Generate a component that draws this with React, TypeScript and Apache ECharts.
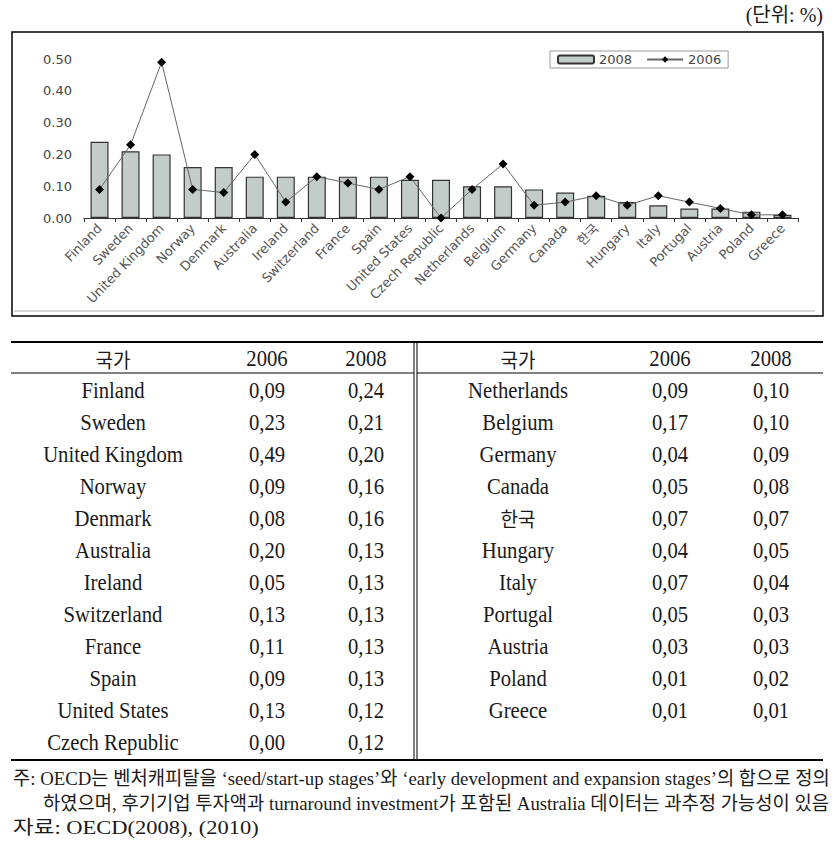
import React, { useEffect, useRef } from 'react';
import * as echarts from 'echarts';

const countries = [
  'Finland', 'Sweden', 'United Kingdom', 'Norway', 'Denmark', 'Australia', 'Ireland',
  'Switzerland', 'France', 'Spain', 'United States', 'Czech Republic', 'Netherlands',
  'Belgium', 'Germany', 'Canada', '한국', 'Hungary', 'Italy', 'Portugal', 'Austria',
  'Poland', 'Greece',
];
const values2006 = [
  0.09, 0.23, 0.49, 0.09, 0.08, 0.20, 0.05, 0.13, 0.11, 0.09, 0.13, 0.00, 0.09,
  0.17, 0.04, 0.05, 0.07, 0.04, 0.07, 0.05, 0.03, 0.01, 0.01,
];
const values2008 = [
  0.24, 0.21, 0.20, 0.16, 0.16, 0.13, 0.13, 0.13, 0.13, 0.13, 0.12, 0.12, 0.10,
  0.10, 0.09, 0.08, 0.07, 0.05, 0.04, 0.03, 0.03, 0.02, 0.01,
];
const barName = '2008';
const lineName = '2006';
const yMin = 0;
const yMax = 0.5;
const yInterval = 0.1;
const unitLabel = '(단위: %)';
const tableHeader = ['국가', '2006', '2008'];
const leftRowCount = 12;
const noteLines = [
  '주: OECD는 벤처캐피탈을 ‘seed/start-up stages’와 ‘early development and expansion stages’의 합으로 정의',
  '하였으며, 후기기업 투자액과 turnaround investment가 포함된 Australia 데이터는 과추정 가능성이 있음',
  '자료: OECD(2008), (2010)',
];

const SERIF = '"Liberation Serif", "Noto Sans CJK KR", serif';
const CJK = '"Noto Sans CJK KR", "Liberation Serif", sans-serif';
const SANS = '"DejaVu Sans", "Noto Sans CJK KR", sans-serif';

function measure(text: string, font: string): number {
  const ctx = document.createElement('canvas').getContext('2d');
  if (!ctx) return text.length * 8;
  ctx.font = font;
  return ctx.measureText(text).width;
}

const fmt = (v: number) => v.toFixed(2).replace('.', ',');
const hasHangul = (s: string) => /[\uac00-\ud7a3]/.test(s);

function cellText(text: string, x: number, y: number): any {
  const korean = hasHangul(text);
  return {
    type: 'text',
    x,
    y,
    scaleX: korean ? 0.95 : 0.9,
    style: {
      text,
      x: 0,
      y: 0,
      textAlign: 'center',
      textVerticalAlign: 'middle',
      fontSize: korean ? 20 : 23,
      fontFamily: korean ? CJK : SERIF,
      fill: '#1a1a1a',
    },
  };
}

export default function App() {
  const ref = useRef<HTMLDivElement>(null);

  useEffect(() => {
    if (!ref.current) return;
    const chart = echarts.init(ref.current, undefined, { renderer: 'svg' });

    const graphics: any[] = [];
    graphics.push({
      type: 'rect',
      shape: { x: 12, y: 32, width: 811, height: 284 },
      style: { fill: 'none', stroke: '#000', lineWidth: 1.5 },
    });
    graphics.push({
      type: 'line',
      shape: { x1: 14, y1: 311, x2: 815, y2: 311 },
      style: { stroke: '#c8c8c8', lineWidth: 1.5 },
    });
    graphics.push({
      type: 'text',
      x: 823,
      y: 15,
      style: {
        text: unitLabel,
        x: 0,
        y: 0,
        textAlign: 'right',
        textVerticalAlign: 'middle',
        fontSize: 20,
        fontFamily: SERIF,
        fill: '#1a1a1a',
      },
    });

    const lineEl = (x1: number, y1: number, x2: number, y2: number, w: number) => ({
      type: 'line',
      shape: { x1, y1, x2, y2 },
      style: { stroke: '#000', lineWidth: w },
    });
    graphics.push(lineEl(11, 342, 823, 342, 2));
    graphics.push(lineEl(11, 373, 414, 373, 1));
    graphics.push(lineEl(417, 373, 823, 373, 1));
    graphics.push(lineEl(11, 760, 823, 760, 2));
    graphics.push(lineEl(414, 342, 414, 760, 1));
    graphics.push(lineEl(417, 342, 417, 760, 1));

    const leftCols = [113, 267, 366];
    const rightCols = [518, 670, 771];
    const headerY = 359;
    const rowY0 = 390.5;
    const rowStep = 32;
    tableHeader.forEach((h, k) => {
      graphics.push(cellText(h, leftCols[k], headerY));
      graphics.push(cellText(h, rightCols[k], headerY));
    });
    countries.forEach((c, i) => {
      const right = i >= leftRowCount;
      const r = right ? i - leftRowCount : i;
      const cols = right ? rightCols : leftCols;
      const y = rowY0 + rowStep * r;
      graphics.push(cellText(c, cols[0], y));
      graphics.push(cellText(fmt(values2006[i]), cols[1], y));
      graphics.push(cellText(fmt(values2008[i]), cols[2], y));
    });

    const noteFontSize = 19;
    const noteFont = `${noteFontSize}px ${SERIF}`;
    const notePos = [
      { x: 13, y: 778, w: 817 },
      { x: 43, y: 803, w: 787 },
      { x: 13, y: 828, w: 246 },
    ];
    noteLines.forEach((t, i) => {
      const p = notePos[i];
      const mw = measure(t, noteFont);
      const s = mw > 0 ? p.w / mw : 1;
      graphics.push({
        type: 'text',
        x: p.x,
        y: p.y,
        scaleX: s,
        style: {
          text: t,
          x: 0,
          y: 0,
          textAlign: 'left',
          textVerticalAlign: 'middle',
          fontSize: noteFontSize,
          fontFamily: SERIF,
          fill: '#1a1a1a',
        },
      });
    });

    chart.setOption({
      animation: false,
      backgroundColor: '#fff',
      grid: { left: 84, right: 39, top: 59, bottom: 633 },
      legend: {
        left: 550,
        top: 51,
        padding: [2, 7],
        itemWidth: 36,
        itemHeight: 8,
        itemGap: 14,
        borderColor: '#999',
        borderWidth: 1,
        textStyle: { fontSize: 13, fontFamily: SANS, color: '#444' },
        data: [barName, lineName],
      },
      xAxis: {
        type: 'category',
        data: countries,
        axisLine: { lineStyle: { color: '#333', width: 1 } },
        axisTick: { show: true, length: 4, interval: 0, lineStyle: { color: '#333' } },
        axisLabel: {
          interval: 0,
          rotate: 46,
          margin: 8,
          fontSize: 13,
          fontFamily: SANS,
          color: '#555',
        },
      },
      yAxis: {
        type: 'value',
        min: yMin,
        max: yMax,
        interval: yInterval,
        axisLine: { show: false },
        axisTick: { show: false },
        splitLine: { show: false },
        axisLabel: {
          margin: 12,
          fontSize: 13,
          fontFamily: SANS,
          color: '#444',
          formatter: (v: number) => v.toFixed(2),
        },
      },
      series: [
        {
          name: barName,
          type: 'bar',
          data: values2008,
          barWidth: 18,
          itemStyle: { color: '#c2ccc9', borderColor: '#333', borderWidth: 1.2 },
        },
        {
          name: lineName,
          type: 'line',
          data: values2006,
          symbol: 'diamond',
          symbolSize: 9,
          itemStyle: { color: '#000' },
          lineStyle: { color: '#666', width: 1 },
          z: 3,
        },
      ],
      graphic: { elements: graphics },
    });

    return () => chart.dispose();
  }, []);

  return (
    <div
      ref={ref}
      style={{ position: 'absolute', left: 0, top: 0, width: 837, height: 851, background: '#fff' }}
    />
  );
}
